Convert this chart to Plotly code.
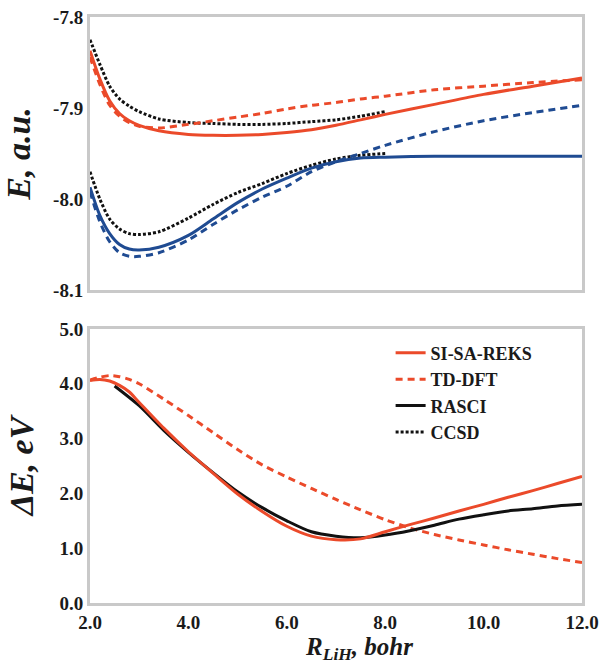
import plotly.graph_objects as go

# ---------------- data ----------------
# Top panel: potential energy curves, E (a.u.) vs R_LiH (bohr)
R_top = [2.0, 2.2, 2.4, 2.6, 2.8, 3.0, 3.4, 4.0, 4.5, 5.0, 5.5, 6.0, 6.5,
         7.0, 7.5, 8.0, 9.0, 10.0, 11.0, 12.0]
reks_s1 = [-7.837, -7.868, -7.892, -7.906, -7.914, -7.919, -7.925, -7.929,
           -7.930, -7.930, -7.929, -7.927, -7.924, -7.919, -7.913, -7.907,
           -7.896, -7.885, -7.876, -7.867]
reks_s0 = [-7.987, -8.018, -8.038, -8.050, -8.055, -8.056, -8.053, -8.040,
           -8.022, -8.004, -7.989, -7.977, -7.966, -7.959, -7.955, -7.954,
           -7.953, -7.953, -7.953, -7.953]
tddft_s1 = [-7.844, -7.874, -7.897, -7.909, -7.916, -7.920, -7.922, -7.918,
            -7.914, -7.910, -7.906, -7.901, -7.897, -7.894, -7.890, -7.887,
            -7.880, -7.876, -7.872, -7.869]
tddft_s0 = [-7.992, -8.025, -8.047, -8.059, -8.063, -8.063, -8.059, -8.045,
            -8.028, -8.012, -7.998, -7.986, -7.970, -7.959, -7.950, -7.941,
            -7.926, -7.914, -7.905, -7.897]
R_ccsd = [2.0, 2.2, 2.4, 2.6, 2.8, 3.0, 3.4, 4.0, 4.5, 5.0, 5.5, 6.0, 6.5,
          7.0, 7.5, 8.0]
ccsd_s1 = [-7.825, -7.852, -7.876, -7.890, -7.898, -7.904, -7.912, -7.916,
           -7.917, -7.918, -7.918, -7.917, -7.915, -7.913, -7.909, -7.904]
ccsd_s0 = [-7.970, -8.000, -8.022, -8.033, -8.038, -8.039, -8.036, -8.021,
           -8.006, -7.993, -7.983, -7.972, -7.963, -7.956, -7.952, -7.950]

# Bottom panel: excitation energy, dE (eV) vs R_LiH (bohr)
R_bot = [2.0, 2.2, 2.4, 2.6, 2.8, 3.0, 3.5, 4.0, 4.5, 5.0, 5.5, 6.0, 6.5,
         7.0, 7.5, 8.0, 8.5, 9.0, 9.5, 10.0, 10.5, 11.0, 11.5, 12.0]
reks_de = [4.06, 4.08, 4.05, 3.97, 3.85, 3.66, 3.19, 2.76, 2.37, 1.99, 1.67,
           1.40, 1.22, 1.155, 1.17, 1.30, 1.43, 1.55, 1.68, 1.80, 1.93, 2.05,
           2.18, 2.31]
tddft_de = [4.07, 4.12, 4.15, 4.13, 4.08, 4.00, 3.72, 3.42, 3.11, 2.80, 2.52,
            2.30, 2.09, 1.89, 1.70, 1.52, 1.37, 1.25, 1.15, 1.06, 0.97, 0.89,
            0.81, 0.74]
R_rasci = [2.5, 3.0, 3.5, 4.0, 4.5, 5.0, 5.5, 6.0, 6.5, 7.0, 7.5, 8.0, 8.5,
           9.0, 9.5, 10.0, 10.5, 11.0, 11.5, 12.0]
rasci_de = [3.96, 3.60, 3.15, 2.75, 2.38, 2.03, 1.74, 1.50, 1.30, 1.22, 1.19,
            1.24, 1.32, 1.42, 1.53, 1.61, 1.68, 1.72, 1.77, 1.80]

x_tickvals = [2, 4, 6, 8, 10, 12]
x_ticktext = ["2.0", "4.0", "6.0", "8.0", "10.0", "12.0"]
yt_tickvals = [-8.1, -8.0, -7.9, -7.8]
yt_ticktext = ["-8.1", "-8.0", "-7.9", "-7.8"]
yb_tickvals = [0, 1, 2, 3, 4, 5]
yb_ticktext = ["0.0", "1.0", "2.0", "3.0", "4.0", "5.0"]

# ---------------- styling ----------------
RED = "#eb4a2a"
BLUE = "#1f4b92"
BLACK = "#111111"
FRAME = "#c9c9c9"
FONT = "Liberation Serif"
DASH = "7px,5px"
DOT = "3px,2px"
LW = 3

fig = go.Figure()

def add(x, y, color, dash, xa, ya, name=None, show=False, rank=None):
    fig.add_trace(go.Scatter(
        x=x, y=y, mode="lines", name=name, showlegend=show,
        legendrank=rank if rank else 1000,
        line=dict(color=color, width=LW, dash=dash, shape="spline", smoothing=0.8),
        xaxis=xa, yaxis=ya, hoverinfo="skip"))

# top panel
add(R_ccsd, ccsd_s1, BLACK, DOT, "x", "y", "CCSD", True, 4)
add(R_ccsd, ccsd_s0, BLACK, DOT, "x", "y")
add(R_top, tddft_s1, RED, DASH, "x", "y")
add(R_top, tddft_s0, BLUE, DASH, "x", "y")
add(R_top, reks_s1, RED, "solid", "x", "y")
add(R_top, reks_s0, BLUE, "solid", "x", "y")

# bottom panel
add(R_bot, tddft_de, RED, DASH, "x2", "y2", "TD-DFT", True, 2)
add(R_rasci, rasci_de, BLACK, "solid", "x2", "y2", "RASCI", True, 3)
add(R_bot, reks_de, RED, "solid", "x2", "y2", "SI-SA-REKS", True, 1)

tickfont = dict(family=FONT, size=19, color="#1a1a1a", weight="bold")
titlefont = dict(family=FONT, size=34, color="#1a1a1a", weight="bold", style="italic")

axis_common = dict(showline=True, mirror=True, linecolor=FRAME, linewidth=LW,
                   showgrid=False, zeroline=False, ticks="", tickfont=tickfont,
                   automargin=False)

fig.update_layout(
    width=601, height=663,
    margin=dict(l=90, r=19, t=17, b=60),
    paper_bgcolor="white", plot_bgcolor="white",
    font=dict(family=FONT, color="#1a1a1a"),
    xaxis=dict(domain=[0, 1], anchor="y", range=[2, 12], showticklabels=False,
               tickvals=x_tickvals, **axis_common),
    yaxis=dict(domain=[0.5341, 1], anchor="x", range=[-8.1, -7.8],
               tickvals=yt_tickvals, ticktext=yt_ticktext,
               title=dict(text="E, a.u.", font=titlefont, standoff=16),
               **axis_common),
    xaxis2=dict(domain=[0, 1], anchor="y2", range=[2, 12],
                tickvals=x_tickvals, ticktext=x_ticktext, **axis_common),
    yaxis2=dict(domain=[0, 0.4676], anchor="x2", range=[0, 5],
                tickvals=yb_tickvals, ticktext=yb_ticktext,
                title=dict(text="ΔE, eV", font=titlefont, standoff=16),
                **axis_common),
    legend=dict(x=0.611, xanchor="left", y=0.458, yanchor="top",
                font=dict(family=FONT, size=18, color="#1a1a1a", weight="bold"),
                bgcolor="rgba(0,0,0,0)", itemwidth=30, tracegroupgap=0),
    annotations=[dict(
        text="R<sub>LiH</sub>, bohr", xref="paper", yref="paper",
        x=0.547, y=-0.0768, xanchor="center", yanchor="middle", showarrow=False,
        font=dict(family=FONT, size=25, color="#1a1a1a", weight="bold", style="italic"))],
)

# remove the browser's default 8px body margin so the figure sits at (0, 0)
fig.write_html("out.html", config={"displayModeBar": False},
               post_script="document.body.style.margin='0px';")
